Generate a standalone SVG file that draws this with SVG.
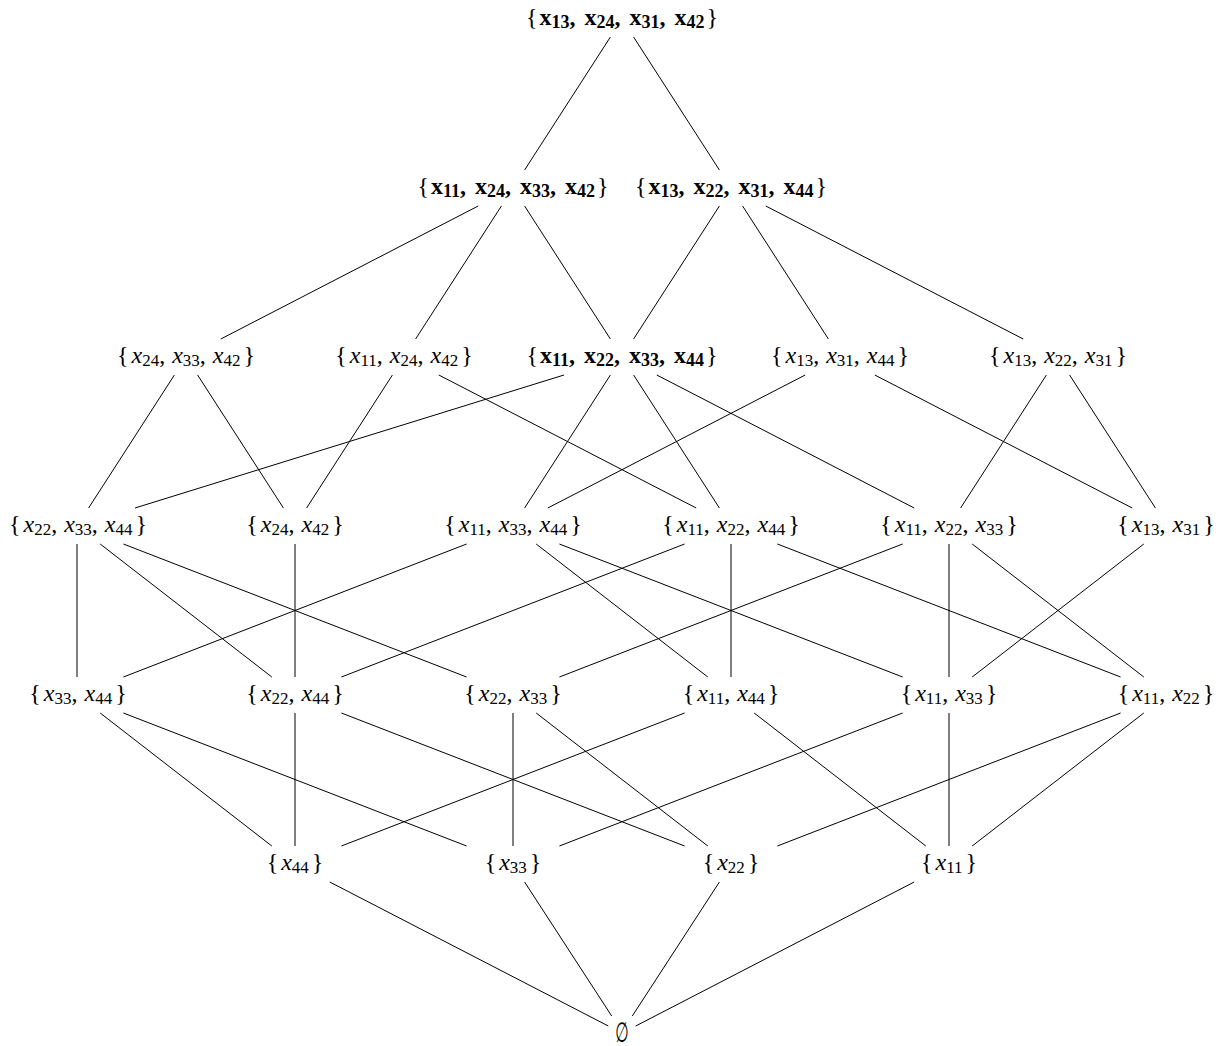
<svg xmlns="http://www.w3.org/2000/svg" width="1224" height="1046" viewBox="0 0 1224 1046">
<style>
.t{font-family:"Liberation Serif","DejaVu Serif",serif;font-size:24px;fill:#000;text-anchor:middle}
.v{font-style:italic}
.s{font-size:17px}
.b{font-weight:bold}
.bs{font-size:18px;font-weight:bold}
.e{font-family:"DejaVu Sans",sans-serif;font-size:28px;fill:#000;text-anchor:middle}
#edges line{stroke:#000;stroke-width:1}
</style>
<rect width="1224" height="1046" fill="#fff"/>
<g id="edges">
<line x1="610.4" y1="37" x2="524.6" y2="170"/>
<line x1="633.6" y1="37" x2="719.4" y2="170"/>
<line x1="478.2" y1="206" x2="220.8" y2="339"/>
<line x1="501.4" y1="206" x2="415.6" y2="339"/>
<line x1="524.6" y1="206" x2="610.4" y2="339"/>
<line x1="719.4" y1="206" x2="633.6" y2="339"/>
<line x1="742.6" y1="206" x2="828.4" y2="339"/>
<line x1="765.8" y1="206" x2="1023.2" y2="339"/>
<line x1="174.4" y1="375" x2="88.6" y2="508"/>
<line x1="197.6" y1="375" x2="283.4" y2="508"/>
<line x1="392.4" y1="375" x2="306.6" y2="508"/>
<line x1="438.8" y1="375" x2="696.2" y2="508"/>
<line x1="564" y1="375" x2="135" y2="508"/>
<line x1="610.4" y1="375" x2="524.6" y2="508"/>
<line x1="633.6" y1="375" x2="719.4" y2="508"/>
<line x1="656.8" y1="375" x2="914.2" y2="508"/>
<line x1="805.2" y1="375" x2="547.8" y2="508"/>
<line x1="874.8" y1="375" x2="1132.2" y2="508"/>
<line x1="1046.4" y1="375" x2="960.6" y2="508"/>
<line x1="1069.6" y1="375" x2="1155.4" y2="508"/>
<line x1="77" y1="544" x2="77" y2="677"/>
<line x1="100.2" y1="544" x2="271.8" y2="677"/>
<line x1="123.4" y1="544" x2="466.6" y2="677"/>
<line x1="295" y1="544" x2="295" y2="677"/>
<line x1="466.6" y1="544" x2="123.4" y2="677"/>
<line x1="536.2" y1="544" x2="707.8" y2="677"/>
<line x1="559.4" y1="544" x2="902.6" y2="677"/>
<line x1="684.6" y1="544" x2="341.4" y2="677"/>
<line x1="731" y1="544" x2="731" y2="677"/>
<line x1="777.4" y1="544" x2="1120.6" y2="677"/>
<line x1="902.6" y1="544" x2="559.4" y2="677"/>
<line x1="949" y1="544" x2="949" y2="677"/>
<line x1="972.2" y1="544" x2="1143.8" y2="677"/>
<line x1="1143.8" y1="544" x2="972.2" y2="677"/>
<line x1="100.2" y1="713" x2="271.8" y2="846"/>
<line x1="123.4" y1="713" x2="466.6" y2="846"/>
<line x1="295" y1="713" x2="295" y2="846"/>
<line x1="341.4" y1="713" x2="684.6" y2="846"/>
<line x1="513" y1="713" x2="513" y2="846"/>
<line x1="536.2" y1="713" x2="707.8" y2="846"/>
<line x1="684.6" y1="713" x2="341.4" y2="846"/>
<line x1="754.2" y1="713" x2="925.8" y2="846"/>
<line x1="902.6" y1="713" x2="559.4" y2="846"/>
<line x1="949" y1="713" x2="949" y2="846"/>
<line x1="1120.6" y1="713" x2="777.4" y2="846"/>
<line x1="1143.8" y1="713" x2="972.2" y2="846"/>
<line x1="329.8" y1="882" x2="608.3" y2="1026"/>
<line x1="524.6" y1="882" x2="611.7" y2="1016"/>
<line x1="719.4" y1="882" x2="632.3" y2="1016"/>
<line x1="914.2" y1="882" x2="635.7" y2="1026"/>
</g>
<g id="n-top"><text class="t" x="622" y="25">{<tspan class="b" dx="2">x</tspan><tspan class="bs" dy="3">13</tspan><tspan class="b" dy="-3">,</tspan><tspan class="b" dx="9">x</tspan><tspan class="bs" dy="3">24</tspan><tspan class="b" dy="-3">,</tspan><tspan class="b" dx="9">x</tspan><tspan class="bs" dy="3">31</tspan><tspan class="b" dy="-3">,</tspan><tspan class="b" dx="9">x</tspan><tspan class="bs" dy="3">42</tspan><tspan dy="-3" dx="2">}</tspan></text></g>
<g id="n-a"><text class="t" x="513" y="194">{<tspan class="b" dx="2">x</tspan><tspan class="bs" dy="3">11</tspan><tspan class="b" dy="-3">,</tspan><tspan class="b" dx="9">x</tspan><tspan class="bs" dy="3">24</tspan><tspan class="b" dy="-3">,</tspan><tspan class="b" dx="9">x</tspan><tspan class="bs" dy="3">33</tspan><tspan class="b" dy="-3">,</tspan><tspan class="b" dx="9">x</tspan><tspan class="bs" dy="3">42</tspan><tspan dy="-3" dx="2">}</tspan></text></g>
<g id="n-b"><text class="t" x="731" y="194">{<tspan class="b" dx="2">x</tspan><tspan class="bs" dy="3">13</tspan><tspan class="b" dy="-3">,</tspan><tspan class="b" dx="9">x</tspan><tspan class="bs" dy="3">22</tspan><tspan class="b" dy="-3">,</tspan><tspan class="b" dx="9">x</tspan><tspan class="bs" dy="3">31</tspan><tspan class="b" dy="-3">,</tspan><tspan class="b" dx="9">x</tspan><tspan class="bs" dy="3">44</tspan><tspan dy="-3" dx="2">}</tspan></text></g>
<g id="n-p1"><text class="t" x="186" y="363">{<tspan class="v" dx="3">x</tspan><tspan class="s" dy="3">24</tspan><tspan dy="-3">,</tspan><tspan class="v" dx="7">x</tspan><tspan class="s" dy="3">33</tspan><tspan dy="-3">,</tspan><tspan class="v" dx="7">x</tspan><tspan class="s" dy="3">42</tspan><tspan dy="-3" dx="3">}</tspan></text></g>
<g id="n-p2"><text class="t" x="404" y="363">{<tspan class="v" dx="3">x</tspan><tspan class="s" dy="3">11</tspan><tspan dy="-3">,</tspan><tspan class="v" dx="7">x</tspan><tspan class="s" dy="3">24</tspan><tspan dy="-3">,</tspan><tspan class="v" dx="7">x</tspan><tspan class="s" dy="3">42</tspan><tspan dy="-3" dx="3">}</tspan></text></g>
<g id="n-p3"><text class="t" x="622" y="363">{<tspan class="b" dx="2">x</tspan><tspan class="bs" dy="3">11</tspan><tspan class="b" dy="-3">,</tspan><tspan class="b" dx="9">x</tspan><tspan class="bs" dy="3">22</tspan><tspan class="b" dy="-3">,</tspan><tspan class="b" dx="9">x</tspan><tspan class="bs" dy="3">33</tspan><tspan class="b" dy="-3">,</tspan><tspan class="b" dx="9">x</tspan><tspan class="bs" dy="3">44</tspan><tspan dy="-3" dx="2">}</tspan></text></g>
<g id="n-p4"><text class="t" x="840" y="363">{<tspan class="v" dx="3">x</tspan><tspan class="s" dy="3">13</tspan><tspan dy="-3">,</tspan><tspan class="v" dx="7">x</tspan><tspan class="s" dy="3">31</tspan><tspan dy="-3">,</tspan><tspan class="v" dx="7">x</tspan><tspan class="s" dy="3">44</tspan><tspan dy="-3" dx="3">}</tspan></text></g>
<g id="n-p5"><text class="t" x="1058" y="363">{<tspan class="v" dx="3">x</tspan><tspan class="s" dy="3">13</tspan><tspan dy="-3">,</tspan><tspan class="v" dx="7">x</tspan><tspan class="s" dy="3">22</tspan><tspan dy="-3">,</tspan><tspan class="v" dx="7">x</tspan><tspan class="s" dy="3">31</tspan><tspan dy="-3" dx="3">}</tspan></text></g>
<g id="n-q1"><text class="t" x="78" y="532">{<tspan class="v" dx="3">x</tspan><tspan class="s" dy="3">22</tspan><tspan dy="-3">,</tspan><tspan class="v" dx="7">x</tspan><tspan class="s" dy="3">33</tspan><tspan dy="-3">,</tspan><tspan class="v" dx="7">x</tspan><tspan class="s" dy="3">44</tspan><tspan dy="-3" dx="3">}</tspan></text></g>
<g id="n-q2"><text class="t" x="295" y="532">{<tspan class="v" dx="3">x</tspan><tspan class="s" dy="3">24</tspan><tspan dy="-3">,</tspan><tspan class="v" dx="7">x</tspan><tspan class="s" dy="3">42</tspan><tspan dy="-3" dx="3">}</tspan></text></g>
<g id="n-q3"><text class="t" x="513" y="532">{<tspan class="v" dx="3">x</tspan><tspan class="s" dy="3">11</tspan><tspan dy="-3">,</tspan><tspan class="v" dx="7">x</tspan><tspan class="s" dy="3">33</tspan><tspan dy="-3">,</tspan><tspan class="v" dx="7">x</tspan><tspan class="s" dy="3">44</tspan><tspan dy="-3" dx="3">}</tspan></text></g>
<g id="n-q4"><text class="t" x="731" y="532">{<tspan class="v" dx="3">x</tspan><tspan class="s" dy="3">11</tspan><tspan dy="-3">,</tspan><tspan class="v" dx="7">x</tspan><tspan class="s" dy="3">22</tspan><tspan dy="-3">,</tspan><tspan class="v" dx="7">x</tspan><tspan class="s" dy="3">44</tspan><tspan dy="-3" dx="3">}</tspan></text></g>
<g id="n-q5"><text class="t" x="949" y="532">{<tspan class="v" dx="3">x</tspan><tspan class="s" dy="3">11</tspan><tspan dy="-3">,</tspan><tspan class="v" dx="7">x</tspan><tspan class="s" dy="3">22</tspan><tspan dy="-3">,</tspan><tspan class="v" dx="7">x</tspan><tspan class="s" dy="3">33</tspan><tspan dy="-3" dx="3">}</tspan></text></g>
<g id="n-q6"><text class="t" x="1166" y="532">{<tspan class="v" dx="3">x</tspan><tspan class="s" dy="3">13</tspan><tspan dy="-3">,</tspan><tspan class="v" dx="7">x</tspan><tspan class="s" dy="3">31</tspan><tspan dy="-3" dx="3">}</tspan></text></g>
<g id="n-r1"><text class="t" x="78" y="701">{<tspan class="v" dx="3">x</tspan><tspan class="s" dy="3">33</tspan><tspan dy="-3">,</tspan><tspan class="v" dx="7">x</tspan><tspan class="s" dy="3">44</tspan><tspan dy="-3" dx="3">}</tspan></text></g>
<g id="n-r2"><text class="t" x="295" y="701">{<tspan class="v" dx="3">x</tspan><tspan class="s" dy="3">22</tspan><tspan dy="-3">,</tspan><tspan class="v" dx="7">x</tspan><tspan class="s" dy="3">44</tspan><tspan dy="-3" dx="3">}</tspan></text></g>
<g id="n-r3"><text class="t" x="513" y="701">{<tspan class="v" dx="3">x</tspan><tspan class="s" dy="3">22</tspan><tspan dy="-3">,</tspan><tspan class="v" dx="7">x</tspan><tspan class="s" dy="3">33</tspan><tspan dy="-3" dx="3">}</tspan></text></g>
<g id="n-r4"><text class="t" x="731" y="701">{<tspan class="v" dx="3">x</tspan><tspan class="s" dy="3">11</tspan><tspan dy="-3">,</tspan><tspan class="v" dx="7">x</tspan><tspan class="s" dy="3">44</tspan><tspan dy="-3" dx="3">}</tspan></text></g>
<g id="n-r5"><text class="t" x="949" y="701">{<tspan class="v" dx="3">x</tspan><tspan class="s" dy="3">11</tspan><tspan dy="-3">,</tspan><tspan class="v" dx="7">x</tspan><tspan class="s" dy="3">33</tspan><tspan dy="-3" dx="3">}</tspan></text></g>
<g id="n-r6"><text class="t" x="1166" y="701">{<tspan class="v" dx="3">x</tspan><tspan class="s" dy="3">11</tspan><tspan dy="-3">,</tspan><tspan class="v" dx="7">x</tspan><tspan class="s" dy="3">22</tspan><tspan dy="-3" dx="3">}</tspan></text></g>
<g id="n-s1"><text class="t" x="295" y="870">{<tspan class="v" dx="3">x</tspan><tspan class="s" dy="3">44</tspan><tspan dy="-3" dx="3">}</tspan></text></g>
<g id="n-s2"><text class="t" x="513" y="870">{<tspan class="v" dx="3">x</tspan><tspan class="s" dy="3">33</tspan><tspan dy="-3" dx="3">}</tspan></text></g>
<g id="n-s3"><text class="t" x="731" y="870">{<tspan class="v" dx="3">x</tspan><tspan class="s" dy="3">22</tspan><tspan dy="-3" dx="3">}</tspan></text></g>
<g id="n-s4"><text class="t" x="949" y="870">{<tspan class="v" dx="3">x</tspan><tspan class="s" dy="3">11</tspan><tspan dy="-3" dx="3">}</tspan></text></g>
<g id="n-empty"><text class="e" x="622" y="1042" transform="translate(622 0) scale(0.55 1) translate(-622 0)">∅</text></g>
</svg>
